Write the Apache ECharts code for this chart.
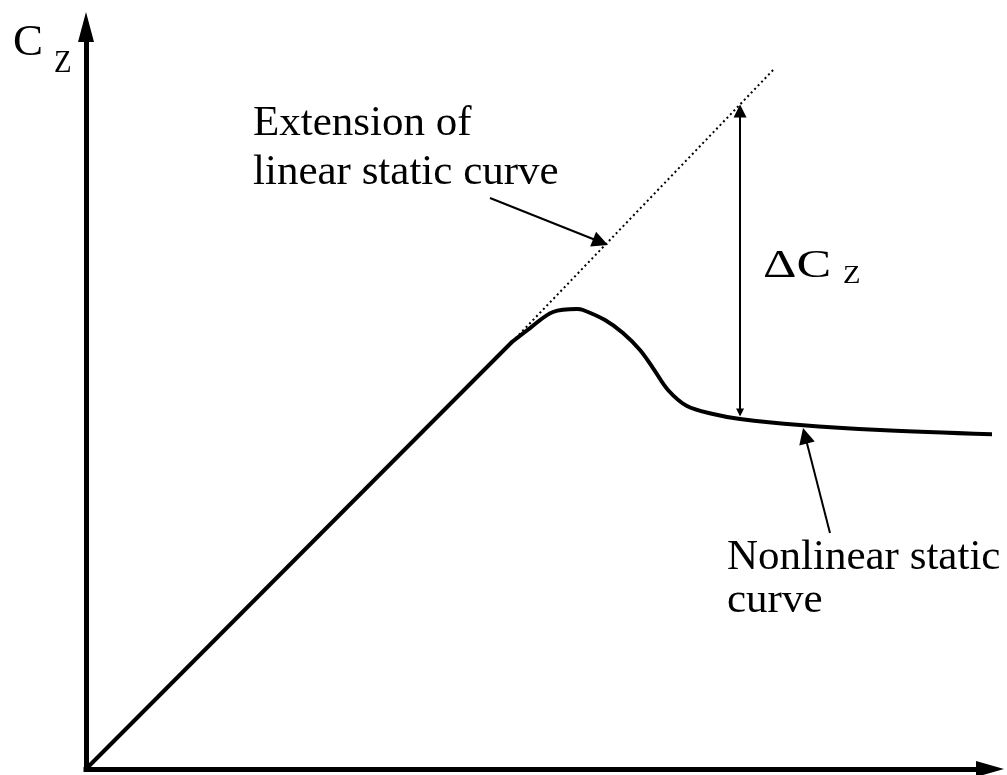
<!DOCTYPE html>
<html>
<head>
<meta charset="utf-8">
<script src="https://cdn.jsdelivr.net/npm/echarts@6/dist/echarts.min.js"></script>
<style>
  html, body { margin: 0; padding: 0; background: #fff; }
  #chart { width: 1007px; height: 775px; }
</style>
</head>
<body>
<div id="chart"></div>
<script>
// Lift coefficient versus angle of attack (arbitrary units, 0-100 on both axes)
const linearCurve = [[0, 0], [47.12, 57.55]];
const extensionCurve = [[47.12, 57.55], [76.22, 94.47]];
const nonlinearCurve = [
  [47.12, 57.55], [49.12, 59.43], [51.66, 61.59], [54.31, 61.99], [54.98, 61.86],
  [57.41, 60.51], [59.40, 58.76], [61.28, 56.47], [62.72, 54.04], [64.38, 51.08],
  [66.48, 48.92], [69.36, 47.84], [72.35, 47.17], [78.98, 46.36], [87.83, 45.69],
  [100.5, 45.1]
];
// Double-headed marker between the two curves (arrow heads are centred on these ends)
const deltaSpan = [[72.35, 48.05], [72.35, 88.68]];
// Leader arrows from the captions to the curves
const extensionPointer = [[44.69, 76.95], [56.92, 71.02]];
const nonlinearPointer = [[82.30, 31.81], [79.54, 44.91]];

const yAxisName = ['C', 'Z'];
const deltaName = ['\u0394C', 'Z'];
const extensionCaption = ['Extension of', 'linear static curve'];
const nonlinearCaption = ['Nonlinear static', 'curve'];

const FONT = '"Liberation Serif", "Times New Roman", serif';

function text(str, x, baseline, size, sx) {
  // place by alphabetic baseline: canvas "middle" sits ~0.3375em above it
  const y = baseline - 0.3375 * size;
  return {
    type: 'text',
    x: x,
    y: y,
    originX: 0,
    originY: 0,
    scaleX: sx || 1,
    style: {
      text: str,
      font: size + 'px ' + FONT,
      fill: '#000',
      align: 'left',
      verticalAlign: 'middle'
    },
    z: 100
  };
}

const chart = echarts.init(document.getElementById('chart'), null, { renderer: 'canvas' });

chart.setOption({
  animation: false,
  backgroundColor: '#fff',
  grid: { left: 86, right: 17, top: 27, bottom: 6, outerBoundsMode: 'none' },
  xAxis: {
    type: 'value', min: 0, max: 100,
    axisLine: {
      show: true, onZero: false,
      symbol: ['none', 'triangle'], symbolSize: [16, 28],
      lineStyle: { color: '#000', width: 5, cap: 'square' }
    },
    axisTick: { show: false }, axisLabel: { show: false }, splitLine: { show: false }
  },
  yAxis: {
    type: 'value', min: 0, max: 100,
    axisLine: {
      show: true, onZero: false,
      symbol: ['none', 'triangle'], symbolSize: [16, 30],
      lineStyle: { color: '#000', width: 5, cap: 'square' }
    },
    axisTick: { show: false }, axisLabel: { show: false }, splitLine: { show: false }
  },
  series: [
    {
      name: 'Linear static curve', type: 'line', data: linearCurve,
      showSymbol: false, symbol: 'none', clip: false,
      lineStyle: { color: '#000', width: 4 }
    },
    {
      name: 'Extension of linear static curve', type: 'line', data: extensionCurve,
      showSymbol: false, symbol: 'none', clip: false,
      lineStyle: { color: '#000', width: 2, type: [2, 3] }
    },
    {
      name: 'Nonlinear static curve', type: 'line', data: nonlinearCurve,
      showSymbol: false, symbol: 'none', smooth: 0.35, clip: false,
      lineStyle: { color: '#000', width: 4, join: 'round', cap: 'round' }
    },
    {
      name: 'Delta', type: 'lines', coordinateSystem: 'cartesian2d',
      symbol: ['triangle', 'triangle'], symbolSize: [8, 13],
      lineStyle: { color: '#000', width: 2, opacity: 1 },
      data: [{ coords: deltaSpan }]
    },
    {
      name: 'Pointers', type: 'lines', coordinateSystem: 'cartesian2d',
      symbol: ['none', 'triangle'], symbolSize: [9, 16],
      lineStyle: { color: '#000', width: 2, opacity: 1 },
      data: [{ coords: extensionPointer }, { coords: nonlinearPointer }]
    }
  ],
  graphic: [
    text(yAxisName[0], 13, 58, 45),
    text(yAxisName[1], 54, 74, 32, 0.9),
    text(extensionCaption[0], 253, 138, 43),
    text(extensionCaption[1], 253, 187, 43),
    text(deltaName[0], 763, 280, 41, 1.27),
    text(deltaName[1], 843, 285, 26, 1.1),
    text(nonlinearCaption[0], 727, 572, 43),
    text(nonlinearCaption[1], 727, 615, 43)
  ]
});
</script>
</body>
</html>
